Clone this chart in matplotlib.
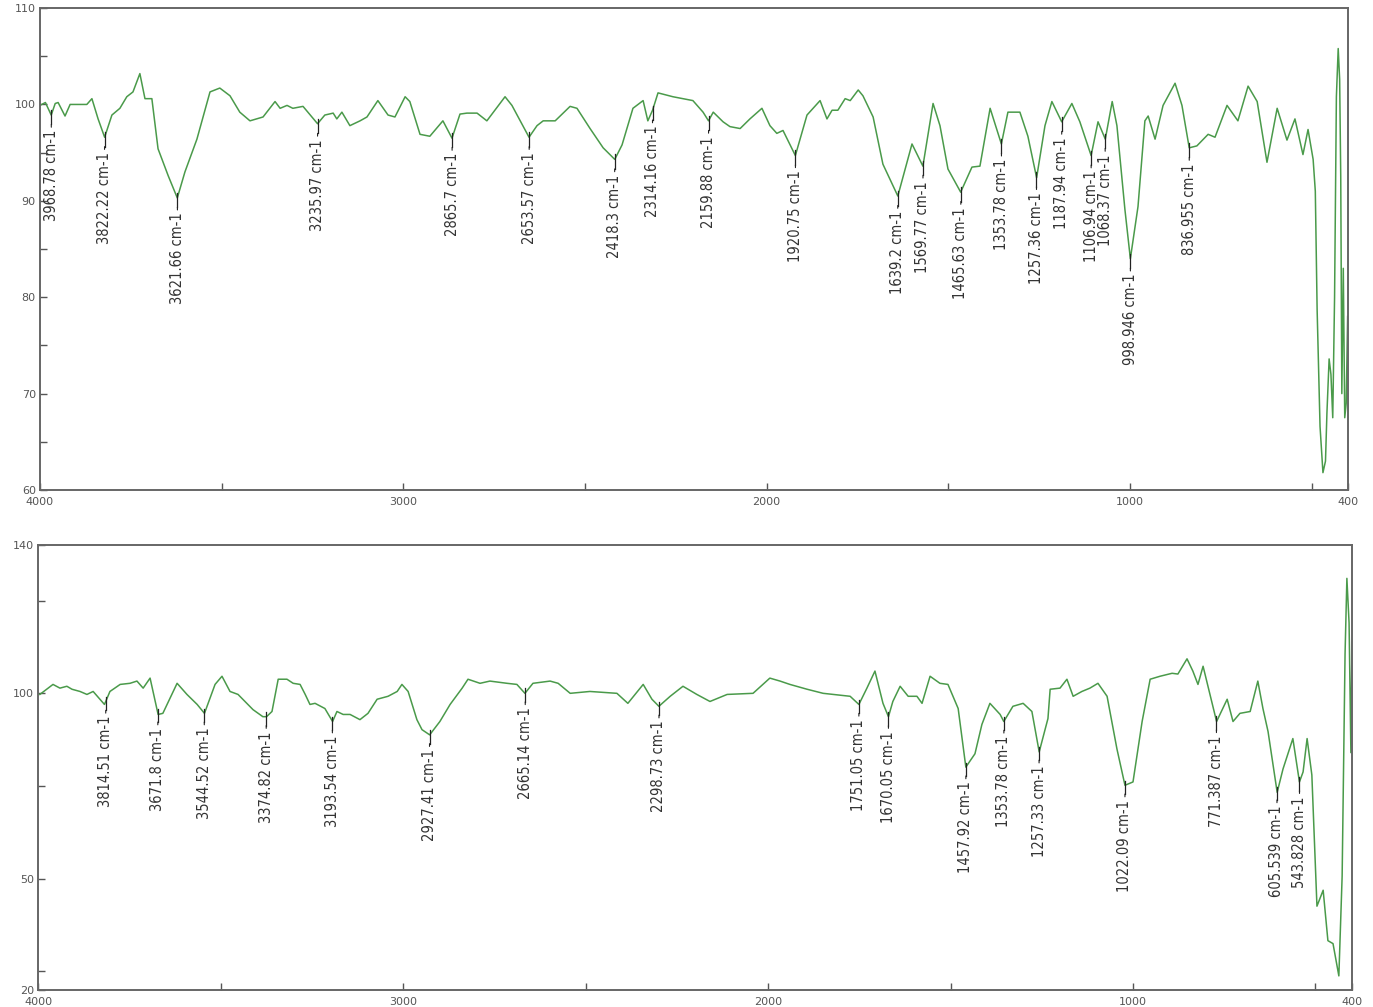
import numpy as np
import matplotlib
matplotlib.use("Agg")
import matplotlib.pyplot as plt
from matplotlib import font_manager

# --- top spectrum (wavenumber cm-1, %T) ---
top_wn = [4000, 3985, 3969, 3958, 3950, 3931, 3917, 3871, 3857, 3840, 3822, 3802, 3780,
          3761, 3744, 3725, 3711, 3692, 3675, 3647, 3622, 3601, 3568, 3532, 3505, 3477,
          3450, 3422, 3386, 3353, 3339, 3320, 3304, 3276, 3236, 3216, 3193, 3183, 3169,
          3147, 3119, 3100, 3070, 3042, 3023, 2995, 2982, 2954, 2927, 2891, 2866, 2844,
          2825, 2797, 2770, 2720, 2701, 2654, 2632, 2615, 2582, 2541, 2522, 2486, 2450,
          2418, 2398, 2368, 2340, 2327, 2314, 2299, 2258, 2203, 2175, 2160, 2147, 2120,
          2101, 2073, 2046, 2013, 1991, 1972, 1955, 1921, 1889, 1853, 1834, 1820, 1804,
          1784, 1770, 1748, 1735, 1707, 1680, 1639, 1600, 1570, 1542, 1523, 1501, 1466,
          1435, 1413, 1385, 1354, 1336, 1303, 1281, 1257, 1234, 1215, 1188, 1160, 1138,
          1107, 1088, 1068, 1049, 1036, 1014, 999, 978, 959, 950, 931, 909, 876, 857,
          837, 816, 785, 766, 733, 703, 675, 650, 623, 595, 568, 546, 524, 510, 496,
          490, 485, 477, 469, 462, 458, 452, 447, 442, 437, 432, 427, 423, 420, 417,
          413, 409, 405, 401]
top_T = [99.9, 100.2, 98.9, 100.1, 100.2, 98.8, 100.0, 100.0, 100.6, 98.5, 96.6, 98.9, 99.6,
         100.8, 101.3, 103.2, 100.6, 100.6, 95.4, 92.6, 90.3, 93.0, 96.4, 101.3, 101.7, 100.9,
         99.2, 98.3, 98.7, 100.3, 99.6, 99.9, 99.6, 99.8, 98.0, 98.9, 99.1, 98.5, 99.2,
         97.8, 98.3, 98.7, 100.4, 98.9, 98.7, 100.8, 100.3, 96.9, 96.7, 98.3, 96.5, 99.0,
         99.1, 99.1, 98.3, 100.8, 99.9, 96.6, 97.8, 98.3, 98.3, 99.8, 99.6, 97.5, 95.5,
         94.3, 95.8, 99.6, 100.4, 98.3, 99.4, 101.2, 100.8, 100.4, 99.2, 98.3, 99.2, 98.2,
         97.7, 97.5, 98.5, 99.6, 97.8, 97.0, 97.3, 94.7, 98.9, 100.4, 98.5, 99.4, 99.4,
         100.6, 100.4, 101.5, 100.9, 98.7, 93.8, 90.5, 95.9, 93.6, 100.1, 97.8, 93.3, 90.9,
         93.5, 93.6, 99.6, 95.9, 99.2, 99.2, 96.7, 92.4, 97.8, 100.3, 98.2, 100.1, 98.2,
         94.7, 98.2, 96.4, 100.3, 97.8, 89.1, 84.0, 89.4, 98.3, 98.8, 96.4, 99.9, 102.2, 99.9,
         95.5, 95.7, 96.9, 96.6, 99.9, 98.3, 101.9, 100.3, 94.0, 99.6, 96.3, 98.5, 94.8, 97.4, 94.3,
         91.0, 78.7, 66.6, 61.8, 63.0, 68.0, 73.6, 72.0, 67.5, 80.0, 100.8, 105.8, 102.6, 92.5, 70.0,
         83.0, 67.5, 69.0, 78.0]
top_peaks = [3968.78, 3822.22, 3621.66, 3235.97, 2865.7, 2653.57, 2418.3, 2314.16, 2159.88,
             1920.75, 1639.2, 1569.77, 1465.63, 1353.78, 1257.36, 1187.94, 1106.94, 1068.37,
             998.946, 836.955]
top_labels = ["3968.78 cm-1", "3822.22 cm-1", "3621.66 cm-1", "3235.97 cm-1", "2865.7 cm-1",
              "2653.57 cm-1", "2418.3 cm-1", "2314.16 cm-1", "2159.88 cm-1", "1920.75 cm-1",
              "1639.2 cm-1", "1569.77 cm-1", "1465.63 cm-1", "1353.78 cm-1", "1257.36 cm-1",
              "1187.94 cm-1", "1106.94 cm-1", "1068.37 cm-1", "998.946 cm-1", "836.955 cm-1"]

# --- bottom spectrum ---
bot_wn = [3995, 3959, 3940, 3921, 3907, 3885, 3866, 3849, 3818, 3803, 3775, 3748, 3729, 3712,
          3693, 3671, 3658, 3619, 3592, 3564, 3544, 3515, 3496, 3474, 3452, 3433, 3411, 3384,
          3374, 3359, 3342, 3318, 3301, 3282, 3268, 3255, 3241, 3214, 3193, 3181, 3164, 3145,
          3118, 3096, 3071, 3041, 3016, 3003, 2986, 2962, 2948, 2927, 2899, 2871, 2838, 2822,
          2789, 2762, 2715, 2688, 2666, 2644, 2597, 2575, 2542, 2488, 2414, 2384, 2342, 2318,
          2299, 2268, 2233, 2195, 2159, 2112, 2041, 1995, 1967, 1940, 1893, 1849, 1775, 1751,
          1729, 1707, 1693, 1685, 1670, 1658, 1638, 1616, 1592, 1578, 1556, 1529, 1507, 1479,
          1458, 1433, 1414, 1392, 1364, 1354, 1329, 1301, 1277, 1257, 1233, 1227, 1200, 1181,
          1164, 1140, 1118, 1096, 1071, 1044, 1022, 1000, 975, 953, 926, 893, 877, 852, 836,
          822, 808, 789, 771, 742, 726, 707, 679, 658, 644, 630, 605, 589, 562, 544, 534, 523,
          510, 496, 479, 466, 452, 436, 427, 419, 414, 408, 403, 400]
bot_T = [99.7, 102.4, 101.4, 101.9, 101.1, 100.5, 99.7, 100.5, 97.0, 100.5, 102.4, 102.7, 103.3, 101.4,
         104.1, 94.3, 94.6, 102.7, 99.7, 97.0, 94.6, 102.4, 104.6, 100.5, 99.7, 97.8, 95.6, 93.7,
         93.7, 95.1, 103.8, 103.8, 102.7, 102.4, 99.7, 97.0, 97.3, 95.9, 92.4, 95.1, 94.3, 94.3,
         92.9, 94.6, 98.4, 99.2, 100.5, 102.4, 100.5, 92.9, 90.2, 88.8, 92.4, 97.0, 101.4, 103.8,
         102.7, 103.3, 102.7, 102.4, 100.0, 102.7, 103.3, 102.7, 100.0, 100.5, 100.0, 97.3, 102.4, 98.4,
         96.5, 99.2, 101.9, 99.7, 97.8, 99.7, 100.0, 104.1, 103.3, 102.4, 101.1, 100.0, 99.2, 97.0,
         101.4, 106.0, 100.5, 97.3, 93.7, 97.8, 101.9, 99.2, 99.2, 97.3, 104.6, 102.7, 102.4, 95.9,
         80.1, 83.7, 91.6, 97.3, 94.3, 92.4, 96.5, 97.3, 95.1, 84.2, 93.2, 101.1, 101.4, 103.8,
         99.2, 100.5, 101.4, 102.7, 99.2, 85.0, 75.2, 76.1, 92.4, 103.8, 104.6, 105.4, 105.2, 109.3, 106.0,
         102.4, 107.3, 99.7, 92.4, 98.4, 92.4, 94.6, 95.1, 103.3, 95.9, 89.7, 73.3, 79.6, 87.8, 76.1, 78.8, 87.8,
         78.0, 42.6, 46.9, 33.3, 32.5, 23.8, 50.7, 110.6, 131.0, 119.0, 84.0, 114.0]
bot_peaks = [3814.51, 3671.8, 3544.52, 3374.82, 3193.54, 2927.41, 2665.14, 2298.73, 1751.05,
             1670.05, 1457.92, 1353.78, 1257.33, 1022.09, 771.387, 605.539, 543.828]
bot_labels = ["3814.51 cm-1", "3671.8 cm-1", "3544.52 cm-1", "3374.82 cm-1", "3193.54 cm-1",
              "2927.41 cm-1", "2665.14 cm-1", "2298.73 cm-1", "1751.05 cm-1", "1670.05 cm-1",
              "1457.92 cm-1", "1353.78 cm-1", "1257.33 cm-1", "1022.09 cm-1", "771.387 cm-1",
              "605.539 cm-1", "543.828 cm-1"]

green = "#4a9a4a"
txt = "#333333"

# narrow font for the peak labels if there is one
names = {f.name for f in font_manager.fontManager.ttflist}
if "Liberation Sans Narrow" in names:
    lab_fp = font_manager.FontProperties(family="Liberation Sans Narrow", size=11.5)
else:
    lab_fp = font_manager.FontProperties(family="DejaVu Sans", stretch="condensed", size=10.5)

fig = plt.figure(figsize=(13.73, 10.07), dpi=100)
ax1 = fig.add_axes([0.0291, 0.5134, 0.9527, 0.4786])
ax2 = fig.add_axes([0.0277, 0.0169, 0.957, 0.4419])


def draw(ax, wn, T, peaks, labels, ylim, yticks, yminor, tick_h):
    ax.plot(wn, T, color=green, lw=1.1)
    ax.set_xlim(4000, 400)
    ax.set_ylim(*ylim)
    xs = np.array(wn[::-1])
    ys = np.array(T[::-1])
    for p, s in zip(peaks, labels):
        y = np.interp(p, xs, ys)
        ax.plot([p, p], [y + tick_h * 0.5, y - tick_h], color="#222222", lw=0.9)
        ax.annotate(s, xy=(p, y - tick_h), xytext=(0, -4), textcoords="offset points",
                    rotation=90, ha="center", va="top", color=txt, fontproperties=lab_fp,
                    arrowprops=dict(arrowstyle="-", lw=0.8, color="#222222",
                                    shrinkA=0, shrinkB=0))
    ax.set_xticks([4000, 3000, 2000, 1000, 400])
    ax.set_xticks([3500, 2500, 1500, 500], minor=True)
    ax.set_yticks(yticks)
    ax.set_yticks(yminor, minor=True)
    ax.tick_params(axis="both", which="both", labelsize=8, colors="#555555",
                   labelcolor="#555555", direction="in", length=5, width=1)
    ax.tick_params(axis="x", pad=5)
    ax.tick_params(axis="y", pad=3)
    for sp in ax.spines.values():
        sp.set_color("#666666")
        sp.set_linewidth(1.4)


draw(ax1, top_wn, top_T, top_peaks, top_labels, (60, 110), [60, 70, 80, 90, 100, 110],
     [65, 75, 85, 95, 105], 1.0)
draw(ax2, bot_wn, bot_T, bot_peaks, bot_labels, (20, 140), [20, 50, 100, 140],
     [25, 75, 125], 2.4)

fig.savefig("out.png", dpi=100)
